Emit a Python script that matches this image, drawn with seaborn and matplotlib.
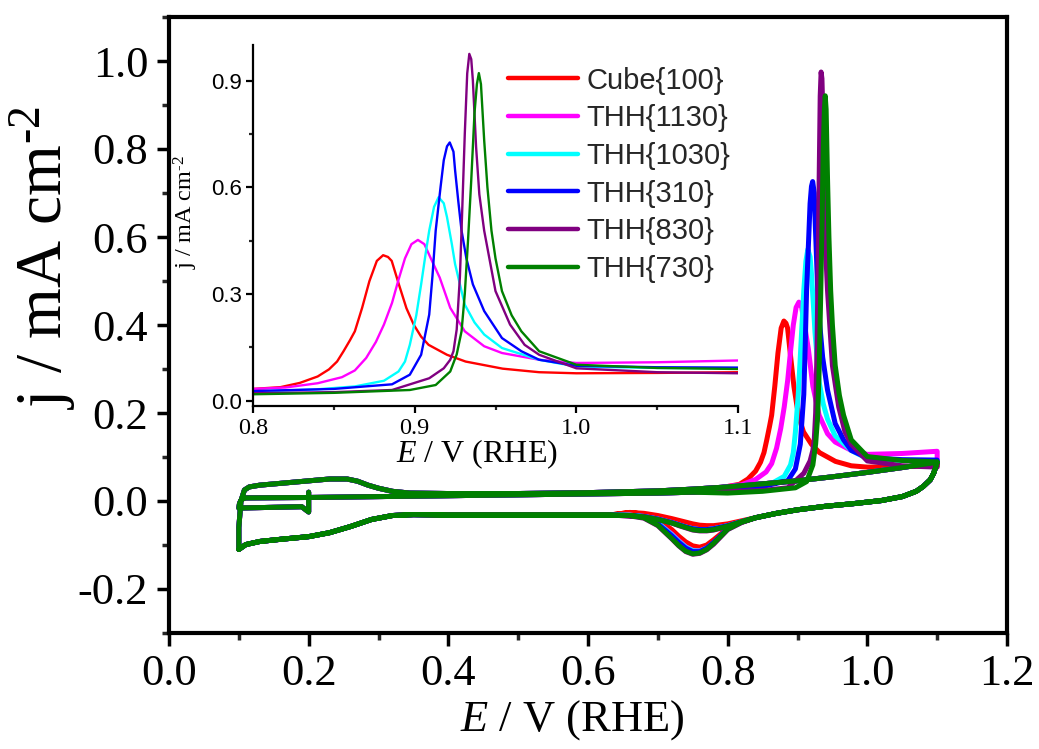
import matplotlib
matplotlib.use("Agg")
import matplotlib.pyplot as plt
import numpy as np
import pandas as pd
import seaborn as sns
from matplotlib.ticker import MultipleLocator, FormatStrFormatter

# ---------------- data ----------------
series = ["Cube{100}", "THH{1130}", "THH{1030}", "THH{310}", "THH{830}", "THH{730}"]
colors = ["#FF0000", "#FF00FF", "#00FFFF", "#0000FF", "#800080", "#008000"]

# anodic CO-stripping sweep, 0.8-1.1 V (one list per series)
peak_E = [
    [0.800, 0.817, 0.829, 0.840, 0.847, 0.852, 0.856, 0.860, 0.863, 0.8675, 0.872, 0.8766, 0.8805, 0.8835,
     0.8858, 0.8903, 0.8949, 0.8995, 0.904, 0.9086, 0.920, 0.9315, 0.9544, 0.977, 1.000, 1.050, 1.100],
    [0.800, 0.820, 0.840, 0.855, 0.863, 0.870, 0.876, 0.881, 0.886, 0.890, 0.894, 0.898,
     0.902, 0.906, 0.910, 0.9155, 0.922, 0.931, 0.943, 0.954, 0.977, 1.000, 1.050, 1.100],
    [0.800, 0.840, 0.863, 0.881, 0.890, 0.894, 0.897, 0.901, 0.904, 0.907, 0.909, 0.912,
     0.9148, 0.918, 0.920, 0.923, 0.925, 0.931, 0.937, 0.943, 0.954, 0.977, 1.000, 1.050, 1.100],
    [0.800, 0.850, 0.886, 0.897, 0.904, 0.909, 0.911, 0.913, 0.916, 0.918, 0.920, 0.9217,
     0.924, 0.925, 0.927, 0.929, 0.932, 0.936, 0.943, 0.954, 0.966, 0.977, 1.000, 1.050, 1.100],
    [0.800, 0.850, 0.886, 0.909, 0.918, 0.922, 0.924, 0.926, 0.928, 0.929, 0.931, 0.9325,
     0.9338, 0.935, 0.936, 0.938, 0.940, 0.943, 0.950, 0.959, 0.968, 0.977, 1.000, 1.050, 1.100],
    [0.800, 0.850, 0.897, 0.913, 0.922, 0.926, 0.929, 0.931, 0.933, 0.935, 0.937, 0.9385,
     0.9397, 0.941, 0.943, 0.945, 0.9475, 0.950, 0.954, 0.960, 0.966, 0.977, 1.000, 1.050, 1.100],
]
peak_j = [
    [0.033, 0.038, 0.050, 0.068, 0.088, 0.110, 0.139, 0.170, 0.195, 0.261, 0.336, 0.393, 0.409, 0.404,
     0.393, 0.326, 0.260, 0.213, 0.180, 0.157, 0.129, 0.110, 0.090, 0.080, 0.077, 0.078, 0.080],
    [0.033, 0.037, 0.049, 0.066, 0.085, 0.120, 0.165, 0.214, 0.275, 0.340, 0.400, 0.440,
     0.452, 0.440, 0.400, 0.346, 0.261, 0.195, 0.153, 0.134, 0.115, 0.106, 0.108, 0.113],
    [0.025, 0.032, 0.040, 0.056, 0.082, 0.110, 0.157, 0.240, 0.327, 0.420, 0.478, 0.545,
     0.572, 0.555, 0.516, 0.440, 0.384, 0.270, 0.220, 0.186, 0.148, 0.115, 0.096, 0.092, 0.091],
    [0.027, 0.033, 0.046, 0.073, 0.129, 0.242, 0.350, 0.478, 0.600, 0.676, 0.715, 0.726,
     0.700, 0.648, 0.560, 0.478, 0.400, 0.327, 0.252, 0.176, 0.139, 0.115, 0.098, 0.094, 0.093],
    [0.021, 0.024, 0.030, 0.063, 0.091, 0.115, 0.139, 0.200, 0.350, 0.480, 0.750, 0.920,
     0.975, 0.960, 0.900, 0.713, 0.580, 0.478, 0.308, 0.214, 0.157, 0.129, 0.091, 0.080, 0.077],
    [0.018, 0.022, 0.030, 0.044, 0.082, 0.130, 0.195, 0.300, 0.450, 0.620, 0.808, 0.890,
     0.921, 0.890, 0.732, 0.600, 0.478, 0.400, 0.308, 0.240, 0.195, 0.139, 0.101, 0.092, 0.089],
]

# initial segment (start 0.2 V, sweep to 0.1 V)
init_E = [0.20, 0.20, 0.19, 0.10]
init_j = [0.020, -0.025, -0.013, -0.016]

# first anodic sweep below 0.8 V (CO-covered)
an1_E = [0.100, 0.101, 0.104, 0.110, 0.20, 0.30, 0.40, 0.50, 0.60, 0.70, 0.75]
an1_j = [-0.016, -0.005, 0.004, 0.007, 0.008, 0.010, 0.012, 0.014, 0.016, 0.018, 0.020]

# cathodic sweep, upper part
cat_hi_E = [1.100, 1.095, 1.090, 1.080, 1.070, 1.050, 1.020, 0.980, 0.940, 0.900, 0.870]
cat_hi_j = [0.088, 0.063, 0.048, 0.033, 0.022, 0.010, 0.001, -0.006, -0.012, -0.020, -0.028]

# oxide-reduction region
dip_E = [0.84, 0.82, 0.80, 0.78, 0.77, 0.76, 0.75, 0.74, 0.73, 0.72, 0.70, 0.68, 0.66]
dip_deep = [
    [-0.038, -0.047, -0.062, -0.088, -0.100, -0.105, -0.102, -0.093, -0.080, -0.065, -0.042, -0.030, -0.026],
    [-0.038, -0.048, -0.064, -0.095, -0.107, -0.113, -0.112, -0.104, -0.090, -0.075, -0.050, -0.036, -0.032],
    [-0.038, -0.048, -0.064, -0.095, -0.107, -0.114, -0.113, -0.105, -0.092, -0.077, -0.050, -0.036, -0.032],
    [-0.038, -0.048, -0.063, -0.094, -0.107, -0.115, -0.115, -0.107, -0.094, -0.079, -0.052, -0.037, -0.033],
    [-0.038, -0.049, -0.065, -0.098, -0.111, -0.119, -0.121, -0.115, -0.102, -0.086, -0.056, -0.039, -0.034],
    [-0.038, -0.048, -0.064, -0.096, -0.110, -0.118, -0.120, -0.114, -0.101, -0.085, -0.055, -0.038, -0.033],
]
dip_shallow = [
    [-0.038, -0.045, -0.052, -0.056, -0.056, -0.055, -0.052, -0.048, -0.044, -0.040, -0.033, -0.028, -0.026],
    [-0.038, -0.047, -0.056, -0.063, -0.065, -0.065, -0.063, -0.059, -0.054, -0.049, -0.041, -0.035, -0.033],
    [-0.038, -0.047, -0.056, -0.063, -0.065, -0.065, -0.063, -0.059, -0.054, -0.049, -0.041, -0.035, -0.033],
    [-0.038, -0.047, -0.056, -0.063, -0.065, -0.065, -0.063, -0.059, -0.054, -0.049, -0.041, -0.035, -0.033],
    [-0.038, -0.048, -0.058, -0.066, -0.068, -0.068, -0.066, -0.061, -0.056, -0.050, -0.042, -0.036, -0.034],
    [-0.038, -0.047, -0.057, -0.065, -0.067, -0.067, -0.065, -0.060, -0.055, -0.050, -0.042, -0.036, -0.033],
]

# cathodic sweep, lower part (double layer + H adsorption)
cat_lo_E = [0.63, 0.60, 0.50, 0.40, 0.35, 0.32, 0.29, 0.26, 0.23, 0.20, 0.16, 0.13, 0.11, 0.10]
cat_lo_j = [-0.032, -0.032, -0.032, -0.032, -0.031, -0.033, -0.042, -0.058, -0.072, -0.081, -0.087, -0.092, -0.099, -0.110]

# second anodic sweep (clean surface)
an2_E = [0.100, 0.100, 0.103, 0.108, 0.115, 0.130, 0.180, 0.230, 0.255, 0.270, 0.285, 0.300, 0.320,
         0.345, 0.40, 0.50, 0.60, 0.70, 0.75, 0.80, 0.85, 0.90, 0.95, 1.00, 1.05, 1.10]
an2_j = [-0.110, -0.060, 0.000, 0.025, 0.032, 0.036, 0.043, 0.050, 0.050, 0.045, 0.036, 0.029, 0.022,
         0.018, 0.017, 0.017, 0.019, 0.023, 0.027, 0.032, 0.039, 0.046, 0.055, 0.065, 0.076, 0.088]

# ---------------- tables ----------------
rows_main, rows_in = [], []
for i, name in enumerate(series):
    E = (init_E + an1_E + peak_E[i] + cat_hi_E + dip_E + cat_lo_E
         + an2_E + cat_hi_E + dip_E + cat_lo_E)
    J = (init_j + an1_j + peak_j[i] + cat_hi_j + dip_deep[i] + cat_lo_j
         + an2_j + cat_hi_j + dip_shallow[i] + cat_lo_j)
    for e, v in zip(E, J):
        rows_main.append((name, e, v))
    for e, v in zip(peak_E[i], peak_j[i]):
        rows_in.append((name, e, v))
df_main = pd.DataFrame(rows_main, columns=["series", "E", "j"])
df_in = pd.DataFrame(rows_in, columns=["series", "E", "j"])

# ---------------- style ----------------
sns.set_theme(style="ticks")
plt.rcParams.update({
    "font.family": ["Liberation Serif", "DejaVu Serif"],
    "mathtext.fontset": "custom",
    "mathtext.rm": "Liberation Serif",
    "mathtext.it": "Liberation Serif:italic",
    "mathtext.bf": "Liberation Serif:bold",
    "axes.unicode_minus": False,
})

W, H = 1039, 749
fig = plt.figure(figsize=(W / 100, H / 100), dpi=100)
fig.patch.set_facecolor("white")

# main axes
L, R, T, B = 169, 1007, 17, 633
ax = fig.add_axes([L / W, 1 - B / H, (R - L) / W, (B - T) / H])
sns.lineplot(data=df_main, x="E", y="j", hue="series", hue_order=series,
             palette=colors, sort=False, estimator=None, lw=3.6, legend=False, ax=ax)
ax.set_xlim(0.0, 1.2)
ax.set_ylim(-0.3, 1.1)
ax.xaxis.set_major_locator(MultipleLocator(0.2))
ax.xaxis.set_minor_locator(MultipleLocator(0.1))
ax.yaxis.set_major_locator(MultipleLocator(0.2))
ax.yaxis.set_minor_locator(MultipleLocator(0.1))
ax.xaxis.set_major_formatter(FormatStrFormatter("%.1f"))
ax.yaxis.set_major_formatter(FormatStrFormatter("%.1f"))
for s in ax.spines.values():
    s.set_linewidth(3.0)
    s.set_color("black")
ax.tick_params(which="major", direction="out", length=9, width=2.5, labelsize=32,
               colors="black", pad=6)
ax.tick_params(which="minor", direction="out", length=5, width=2.5)
ax.tick_params(axis="both", which="both", top=False, right=False)
ax.set_xlabel(r"$\mathit{E}$ / V (RHE)", fontsize=32, color="black")
ax.xaxis.set_label_coords(0.481, -0.105)
ax.set_ylabel("j / mA cm$^{\u20102}$", fontsize=47, color="black")
ax.yaxis.set_label_coords(-0.109, 0.61)

# inset axes
iL, iR, iT, iB = 253, 738, 45, 406
axi = fig.add_axes([iL / W, 1 - iB / H, (iR - iL) / W, (iB - iT) / H])
axi.patch.set_alpha(0.0)
sns.lineplot(data=df_in, x="E", y="j", hue="series", hue_order=series,
             palette=colors, sort=False, estimator=None, lw=1.7, legend=False, ax=axi)
axi.set_xlim(0.8, 1.1)
axi.set_ylim(-0.015, 1.0)
axi.xaxis.set_major_locator(MultipleLocator(0.1))
axi.xaxis.set_minor_locator(MultipleLocator(0.05))
axi.yaxis.set_major_locator(MultipleLocator(0.3))
axi.yaxis.set_minor_locator(MultipleLocator(0.15))
axi.xaxis.set_major_formatter(FormatStrFormatter("%.1f"))
axi.yaxis.set_major_formatter(FormatStrFormatter("%.1f"))
axi.spines["top"].set_visible(False)
axi.spines["right"].set_visible(False)
for k in ("left", "bottom"):
    axi.spines[k].set_linewidth(1.6)
    axi.spines[k].set_color("black")
axi.tick_params(which="major", direction="out", length=5, width=1.6, colors="black")
axi.tick_params(which="minor", direction="out", length=3, width=1.6)
axi.tick_params(axis="x", labelsize=17.5, pad=4)
axi.tick_params(axis="y", labelsize=16, pad=3)
for lab in axi.get_yticklabels():
    lab.set_fontfamily("Liberation Sans")
axi.set_xlabel(r"$\mathit{E}$ / V (RHE)", fontsize=23, color="black")
axi.xaxis.set_label_coords(0.462, -0.088)
axi.set_ylabel("j / mA cm$^{\u20102}$", fontsize=17.5, color="black")
axi.yaxis.set_label_coords(-0.11, 0.537)

handles = axi.get_lines()[:len(series)]
leg = axi.legend(handles=handles, labels=series, loc="upper left",
                 bbox_to_anchor=(0.526, 0.94), frameon=False,
                 prop={"family": "Liberation Sans", "size": 21},
                 handlelength=2.4, handletextpad=0.3, labelspacing=0.33,
                 borderpad=0.0, borderaxespad=0.0)
for ln in leg.get_lines():
    ln.set_linewidth(3.2)

fig.savefig("out.png", dpi=100, facecolor="white")
